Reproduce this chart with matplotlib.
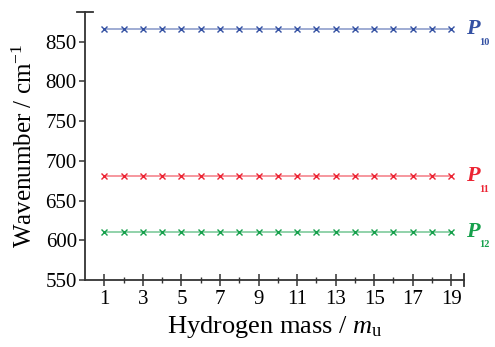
import matplotlib.pyplot as plt

plt.rcParams['font.family'] = ['Liberation Serif', 'DejaVu Serif']
plt.rcParams['mathtext.fontset'] = 'custom'
plt.rcParams['mathtext.rm'] = 'Liberation Serif'
plt.rcParams['mathtext.it'] = 'Liberation Serif:italic'

# hydrogen mass values (m_u)
mass = list(range(1, 20))
# wavenumbers (cm^-1), flat across all masses
p10 = [866] * 19
p11 = [681] * 19
p12 = [611] * 19

names = ['10', '11', '12']
series = [p10, p11, p12]
colors = ['#3451a3', '#ec2433', '#16a04c']

fig = plt.figure(figsize=(4.95, 3.47), dpi=100)
ax = fig.add_axes([0.172, 0.193, 0.765, 0.772])

for vals, name, c in zip(series, names, colors):
    ax.plot(mass, vals, color=c, lw=1.1, alpha=0.6, zorder=2)
    ax.plot(mass, vals, ls='none', marker='x', ms=4.5, mew=1.0, color=c, zorder=3)
    ax.annotate('P', xy=(19.65, vals[-1]), xytext=(1.5, 0), textcoords='offset points',
                color=c, fontsize=16, fontweight='bold', fontstyle='italic',
                ha='left', va='center', annotation_clip=False)
    ax.annotate(name, xy=(19.65, vals[-1]), xytext=(11, -9.5), textcoords='offset points',
                color=c, fontsize=7.5, fontweight='bold', ha='left', va='center',
                annotation_clip=False)

ax.set_xlim(0, 19.65)
ax.set_ylim(550, 887)
ax.set_xticks(range(1, 20, 2))
ax.set_xticks(range(2, 19, 2), minor=True)
ax.set_yticks(range(550, 851, 50))

for s in ['top', 'right']:
    ax.spines[s].set_visible(False)
for s in ['left', 'bottom']:
    ax.spines[s].set_color('#333333')
    ax.spines[s].set_linewidth(1.3)

ax.tick_params(axis='x', which='major', direction='inout', length=8, width=1.1,
               labelsize=15, colors='#333333', labelcolor='black', pad=3)
ax.tick_params(axis='x', which='minor', direction='inout', length=5, width=1.0,
               colors='#333333')
ax.tick_params(axis='y', which='major', direction='out', length=4, width=1.1,
               labelsize=15, colors='#333333', labelcolor='black', pad=2)

# end caps on the axes
ax.plot([-0.022, 0.022], [1, 1], transform=ax.transAxes, color='#333333', lw=1.3, clip_on=False)
ax.plot([1, 1], [-0.022, 0.022], transform=ax.transAxes, color='#333333', lw=1.3, clip_on=False)

ax.set_xlabel(r'Hydrogen mass / $m_{\mathrm{u}}$', fontsize=19, labelpad=4)
ax.set_ylabel(r'Wavenumber / cm$^{-1}$', fontsize=18, labelpad=6)

fig.savefig('out.png', dpi=100)
